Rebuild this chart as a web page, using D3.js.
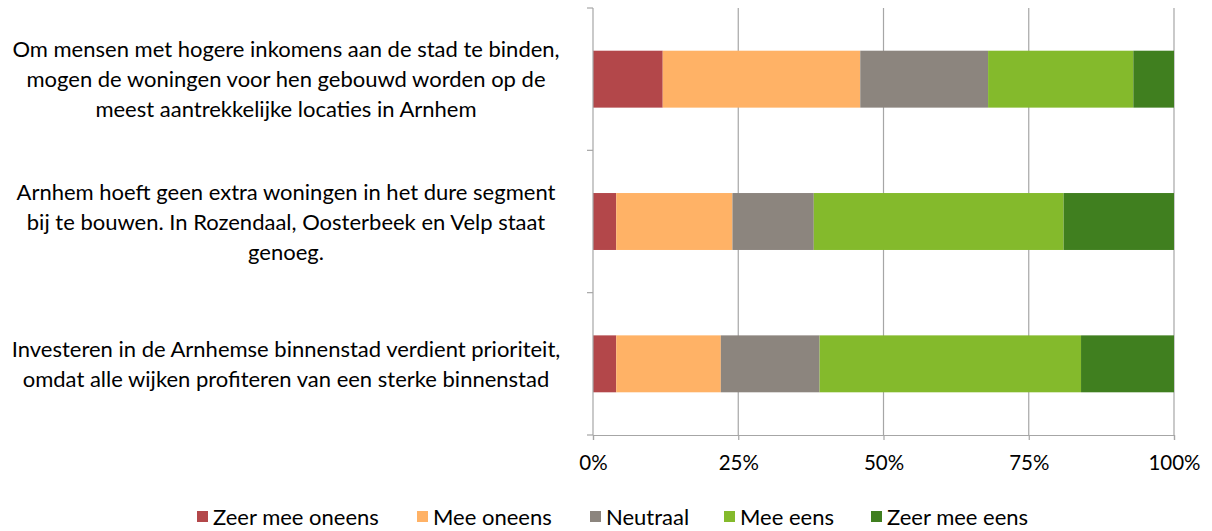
<!DOCTYPE html>
<html><head><meta charset="utf-8">
<script src="https://cdn.jsdelivr.net/npm/d3@7"></script>
<style>body{margin:0;background:#fff}svg{display:block}text{font-family:Lato, "Open Sans", sans-serif;fill:#000}</style>
</head><body><svg id="c" width="1212" height="531"></svg>
<script>
const categories = [
  ["Om mensen met hogere inkomens aan de stad te binden,", "mogen de woningen voor hen gebouwd worden op de", "meest aantrekkelijke locaties in Arnhem"],
  ["Arnhem hoeft geen extra woningen in het dure segment", "bij te bouwen. In Rozendaal, Oosterbeek en Velp staat", "genoeg."],
  ["Investeren in de Arnhemse binnenstad verdient prioriteit,", "omdat alle wijken profiteren van een sterke binnenstad"]
];
const seriesNames = ["Zeer mee oneens", "Mee oneens", "Neutraal", "Mee eens", "Zeer mee eens"];
const zeerOneens = [12, 4, 4];
const meeOneens = [34, 20, 18];
const neutraal = [22, 14, 17];
const meeEens = [25, 43, 45];
const zeerEens = [7, 19, 16];
const colors = ["#B3474A", "#FFB266", "#8C857E", "#84BA2C", "#407F1F"];
const tickValues = [0, 0.25, 0.5, 0.75, 1];
const tickLabels = ["0%", "25%", "50%", "75%", "100%"];

(function () {
const svg = d3.select("#c");
const pL = 593, pR = 1174, pT = 8, pB = 435;
const x = d3.scaleLinear().domain([0, 1]).range([pL, pR]);
const y = d3.scaleBand().domain(d3.range(categories.length)).range([pT, pB]).paddingInner(0.6).paddingOuter(0.3);

const rows = d3.range(categories.length).map(i => {
  const vals = [zeerOneens[i], meeOneens[i], neutraal[i], meeEens[i], zeerEens[i]];
  const tot = d3.sum(vals);
  const o = {i};
  seriesNames.forEach((s, k) => o[s] = vals[k] / tot);
  return o;
});
const stack = d3.stack().keys(seriesNames)(rows);

// gridlines
svg.append("g").selectAll("line").data(tickValues.slice(1)).join("line")
  .attr("x1", d => x(d)).attr("x2", d => x(d)).attr("y1", pT).attr("y2", pB)
  .attr("stroke", "#A6A6A6").attr("stroke-width", 1.2);

// bars
svg.append("g").selectAll("g").data(stack).join("g").attr("fill", (d, k) => colors[k])
  .selectAll("rect").data(d => d).join("rect")
  .attr("x", d => x(d[0])).attr("width", d => x(d[1]) - x(d[0]))
  .attr("y", d => y(d.data.i)).attr("height", y.bandwidth());

// x axis
const xAxis = d3.axisBottom(x).tickValues(tickValues).tickFormat((d, i) => tickLabels[i]).tickSize(5).tickPadding(15);
const gx = svg.append("g").attr("transform", `translate(0,${pB})`).call(xAxis);
gx.select(".domain").attr("stroke", "#A6A6A6").attr("stroke-width", 1.2);
gx.selectAll(".tick line").attr("stroke", "#A6A6A6").attr("stroke-width", 1.2);
gx.selectAll("text").attr("font-size", 20.5).attr("font-family", "Lato, sans-serif").attr("fill", "#000");

// y axis line and boundary ticks
const bounds = d3.range(categories.length + 1).map(i => pT + i * (pB - pT) / categories.length);
svg.append("line").attr("x1", pL).attr("x2", pL).attr("y1", pT).attr("y2", pB).attr("stroke", "#A6A6A6").attr("stroke-width", 1.2);
svg.append("g").selectAll("line").data(bounds).join("line")
  .attr("x1", pL - 6).attr("x2", pL).attr("y1", d => d).attr("y2", d => d)
  .attr("stroke", "#A6A6A6").attr("stroke-width", 1.2);

// category labels
const lh = 30;
const lab = svg.append("g").selectAll("text").data(categories).join("text")
  .attr("text-anchor", "middle").attr("font-size", 22);
lab.each(function(lines, i) {
  const cy = y(i) + y.bandwidth() / 2;
  const y0 = cy - (lines.length - 1) * lh / 2 + 8;
  d3.select(this).selectAll("tspan").data(lines).join("tspan")
    .attr("x", 286).attr("y", (d, j) => y0 + j * lh).text(d => d);
});

// legend
const legX = [197, 417, 590, 724, 871];
const leg = svg.append("g").selectAll("g").data(seriesNames).join("g")
  .attr("transform", (d, k) => `translate(${legX[k]},517)`);
leg.append("rect").attr("x", 0).attr("y", -6).attr("width", 11).attr("height", 11).attr("fill", (d, k) => colors[k]);
leg.append("text").attr("x", 16).attr("y", 8).attr("font-size", 22).text(d => d);
})();
</script></body></html>
